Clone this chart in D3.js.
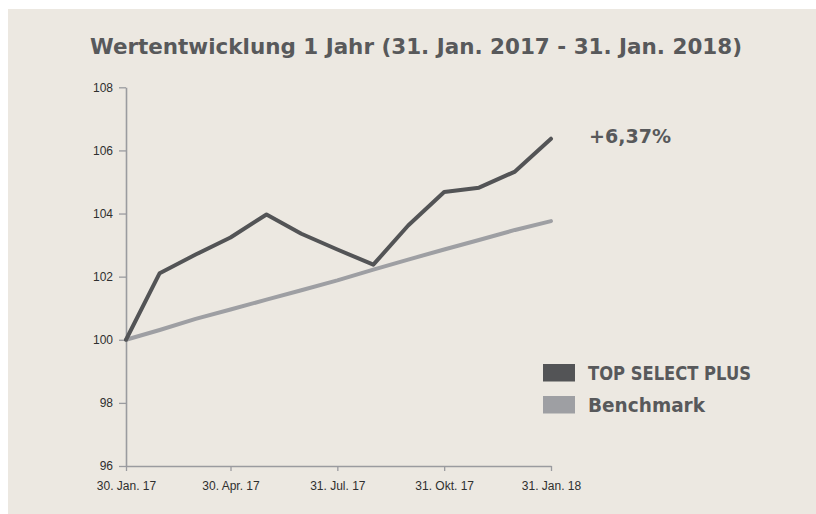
<!DOCTYPE html>
<html>
<head>
<meta charset="utf-8">
<script src="https://cdn.jsdelivr.net/npm/d3@7"></script>
<style>
  body { margin: 0; background: #fff; }
  svg { display: block; }
</style>
</head>
<body>
<div id="chart"></div>
<script>
// Monatsenden (Stichtage)
const dates = ['2017-01-30', '2017-02-28', '2017-03-31', '2017-04-30', '2017-05-31', '2017-06-30',
  '2017-07-31', '2017-08-31', '2017-09-30', '2017-10-31', '2017-11-30', '2017-12-31', '2018-01-31']
const fundValues = [100, 102.11, 102.70, 103.24, 103.97, 103.36, 102.86, 102.38, 103.62, 104.68, 104.82, 105.33, 106.37]
const benchValues = [100, 100.31, 100.66, 100.96, 101.27, 101.57, 101.88, 102.22, 102.54, 102.86, 103.16, 103.48, 103.76]
const xTickDates = ['2017-01-30', '2017-04-30', '2017-07-31', '2017-10-31', '2018-01-31']
const xTickLabels = ['30. Jan. 17', '30. Apr. 17', '31. Jul. 17', '31. Okt. 17', '31. Jan. 18']
const yTicks = [96, 98, 100, 102, 104, 106, 108]
const seriesNames = ['TOP SELECT PLUS', 'Benchmark']
const titleText = 'Wertentwicklung 1 Jahr (31. Jan. 2017 - 31. Jan. 2018)'
const resultText = '+6,37%'

const width = 816
const height = 514
const colorDark = '#535456'
const colorLight = '#9e9fa3'
const textColor = '#58595b'
const axisColor = '#9a9b9f'
const gothic = "'DejaVu Sans', 'Liberation Sans', sans-serif"

const parse = d3.utcParse('%Y-%m-%d')

let svg = d3.select('#chart').append('svg').attr('width', width).attr('height', height)

// Hintergrund
svg.append('rect').attr('x', 8).attr('y', 9).attr('width', width - 8).attr('height', height - 9).attr('fill', '#ece8e1')

// Titel
svg.append('text')
  .attr('x', 416).attr('y', 54)
  .attr('text-anchor', 'middle')
  .attr('textLength', 652)
  .attr('lengthAdjust', 'spacingAndGlyphs')
  .attr('fill', textColor)
  .style('font-family', gothic).style('font-weight', 'bold').style('font-size', '22px')
  .text(titleText)

// Skalen
let x = d3.scaleUtc().domain([parse('2017-01-30'), parse('2018-01-31')]).range([126, 551])
let y = d3.scaleLinear().domain([96, 108]).range([466, 87.3])

// y-Achse
let yAxis = d3.axisLeft(y).tickValues(yTicks).tickSize(7).tickSizeOuter(0).tickFormat(d3.format('d'))
let gy = svg.append('g').attr('transform', 'translate(126,0)').call(yAxis)

// x-Achse
let xAxis = d3.axisBottom(x).tickValues(xTickDates.map(parse)).tickSize(5).tickSizeOuter(0)
  .tickFormat((d, i) => xTickLabels[i])
let gx = svg.append('g').attr('transform', 'translate(0,466)').call(xAxis)

;[gx, gy].forEach(g => {
  g.select('.domain').attr('stroke', axisColor).attr('stroke-width', 1.6)
  g.selectAll('.tick line').attr('stroke', axisColor).attr('stroke-width', 1.3)
  g.selectAll('.tick text')
    .attr('fill', '#2f2f2f')
    .style('font-family', "'Liberation Sans', Arial, sans-serif")
    .style('font-size', '12px')
})
gy.selectAll('.tick text').attr('x', -13)
gx.selectAll('.tick text').attr('y', 15)

// Linien
let line = d3.line()
  .x((d, i) => x(parse(dates[i])))
  .y(d => y(d))

svg.append('path').datum(benchValues)
  .attr('d', line)
  .attr('fill', 'none')
  .attr('stroke', colorLight)
  .attr('stroke-width', 4)
  .attr('stroke-linejoin', 'round')
  .attr('stroke-linecap', 'round')

svg.append('path').datum(fundValues)
  .attr('d', line)
  .attr('fill', 'none')
  .attr('stroke', colorDark)
  .attr('stroke-width', 4)
  .attr('stroke-linejoin', 'round')
  .attr('stroke-linecap', 'round')

// Ergebnis
svg.append('text')
  .attr('x', 589).attr('y', 143)
  .attr('textLength', 82)
  .attr('lengthAdjust', 'spacingAndGlyphs')
  .attr('fill', textColor)
  .style('font-family', gothic).style('font-weight', 'bold').style('font-size', '20px')
  .text(resultText)

// Legende
let legendColors = [colorDark, colorLight]
let legendWidths = [163, 117]
let legend = svg.append('g')
seriesNames.forEach((name, i) => {
  let ly = 364 + i * 32
  legend.append('rect')
    .attr('x', 543).attr('y', ly).attr('width', 32).attr('height', 17.5)
    .attr('fill', legendColors[i])
  legend.append('text')
    .attr('x', 588).attr('y', ly + 15.5)
    .attr('textLength', legendWidths[i])
    .attr('lengthAdjust', 'spacingAndGlyphs')
    .attr('fill', textColor)
    .style('font-family', gothic).style('font-weight', 'bold').style('font-size', '20px')
    .text(name)
})
</script>
</body>
</html>
